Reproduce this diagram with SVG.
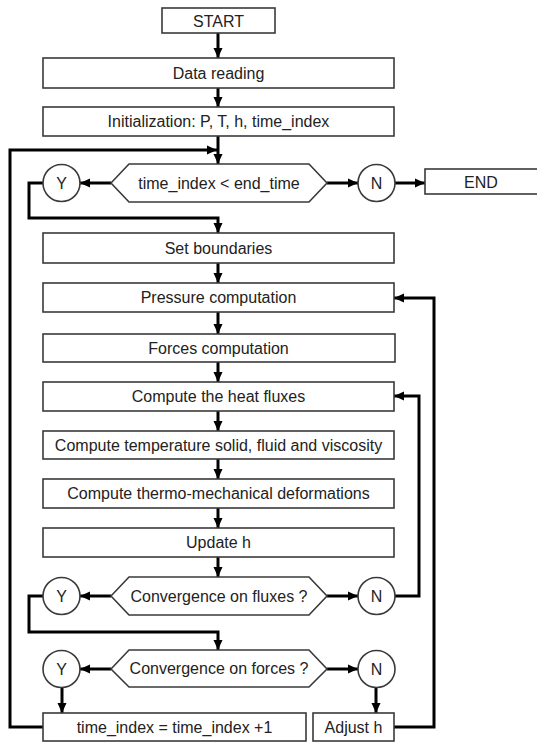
<svg xmlns="http://www.w3.org/2000/svg" width="537" height="742" viewBox="0 0 537 742">
<style>
.box{fill:#fff;stroke:#3a3a3a;stroke-width:1.6}
.t{font-family:"Liberation Sans",Arial,sans-serif;font-size:16px;fill:#222;text-anchor:middle;dominant-baseline:central}
.c{fill:none;stroke:#000;stroke-width:3;stroke-linejoin:miter}
.a{marker-end:url(#ah)}
</style>
<defs>
<marker id="ah" markerUnits="userSpaceOnUse" markerWidth="10" markerHeight="10" refX="10" refY="5" orient="auto">
<path d="M0,0.5 L10,5 L0,9.5 z" fill="#000"/>
</marker>
</defs>
<rect width="537" height="742" fill="#fff"/>
<g id="connectors">
<path class="c a" d="M218,33 V58"/>
<path class="c a" d="M218,88 V107"/>
<path class="c a" d="M218,136 V164"/>
<path class="c a" d="M43,727 H10 V150 H217"/>
<path class="c a" d="M111,183 H80"/>
<path class="c a" d="M43,183 H29 V218 H218 V233"/>
<path class="c a" d="M327,183 H358"/>
<path class="c a" d="M395,183 H425"/>
<path class="c a" d="M218,263 V283"/>
<path class="c a" d="M218,312 V334"/>
<path class="c a" d="M218,362 V382"/>
<path class="c a" d="M218,411 V431"/>
<path class="c a" d="M218,459 V479"/>
<path class="c a" d="M218,508 V528"/>
<path class="c a" d="M218,557 V577"/>
<path class="c a" d="M111,596 H80"/>
<path class="c a" d="M327,596 H358"/>
<path class="c a" d="M395,596 H419 V396 H394"/>
<path class="c a" d="M43,596 H29 V632 H218 V650"/>
<path class="c a" d="M111,669 H80"/>
<path class="c a" d="M327,669 H358"/>
<path class="c a" d="M62,687 V713"/>
<path class="c a" d="M376,687 V713"/>
<path class="c a" d="M394,727 H434 V298 H394"/>
</g>
<g id="start"><rect class="box" x="162" y="8" width="113" height="25"/><text class="t" x="218.5" y="21">START</text></g>
<g id="data-reading"><rect class="box" x="43" y="58" width="351" height="30"/><text class="t" x="218.5" y="73">Data reading</text></g>
<g id="init"><rect class="box" x="43" y="107" width="351" height="29"/><text class="t" x="218.5" y="121.5">Initialization: P, T, h, time_index</text></g>
<g id="cond-time"><polygon class="box" points="111,183 129,164 309,164 327,183 309,202 129,202"/><text class="t" x="219" y="183">time_index &lt; end_time</text></g>
<g id="y1"><circle class="box" cx="61.5" cy="183" r="18.5"/><text class="t" x="61.5" y="183">Y</text></g>
<g id="n1"><circle class="box" cx="376.5" cy="183" r="18.5"/><text class="t" x="376.5" y="183">N</text></g>
<g id="end"><rect class="box" x="425" y="169" width="116" height="25"/><text class="t" x="481" y="182">END</text></g>
<g id="set-boundaries"><rect class="box" x="43" y="233" width="351" height="30"/><text class="t" x="218.5" y="248">Set boundaries</text></g>
<g id="pressure"><rect class="box" x="43" y="283" width="351" height="29"/><text class="t" x="218.5" y="297.5">Pressure computation</text></g>
<g id="forces"><rect class="box" x="43" y="334" width="352" height="28"/><text class="t" x="218.5" y="348">Forces computation</text></g>
<g id="heat"><rect class="box" x="43" y="382" width="351" height="29"/><text class="t" x="218.5" y="396.5">Compute the heat fluxes</text></g>
<g id="temperature"><rect class="box" x="43" y="431" width="351" height="28"/><text class="t" x="218.5" y="445">Compute temperature solid, fluid and viscosity</text></g>
<g id="thermo"><rect class="box" x="43" y="479" width="351" height="29"/><text class="t" x="218.5" y="493.5">Compute thermo-mechanical deformations</text></g>
<g id="update-h"><rect class="box" x="43" y="528" width="351" height="29"/><text class="t" x="218.5" y="542.5">Update h</text></g>
<g id="cond-fluxes"><polygon class="box" points="111,596 129,577 309,577 327,596 309,615 129,615"/><text class="t" x="219" y="596">Convergence on fluxes ?</text></g>
<g id="y2"><circle class="box" cx="61.5" cy="596" r="18.5"/><text class="t" x="61.5" y="596">Y</text></g>
<g id="n2"><circle class="box" cx="376.5" cy="596" r="18.5"/><text class="t" x="376.5" y="596">N</text></g>
<g id="cond-forces"><polygon class="box" points="111,669 129,650 309,650 327,669 309,687 129,687"/><text class="t" x="219" y="668.5">Convergence on forces ?</text></g>
<g id="y3"><circle class="box" cx="61.5" cy="669" r="18.5"/><text class="t" x="61.5" y="669">Y</text></g>
<g id="n3"><circle class="box" cx="376.5" cy="669" r="18.5"/><text class="t" x="376.5" y="669">N</text></g>
<g id="time-increment"><rect class="box" x="43" y="713" width="263" height="28"/><text class="t" x="174.5" y="727">time_index = time_index +1</text></g>
<g id="adjust-h"><rect class="box" x="313" y="713" width="81" height="28"/><text class="t" x="353.5" y="727">Adjust h</text></g>
</svg>
